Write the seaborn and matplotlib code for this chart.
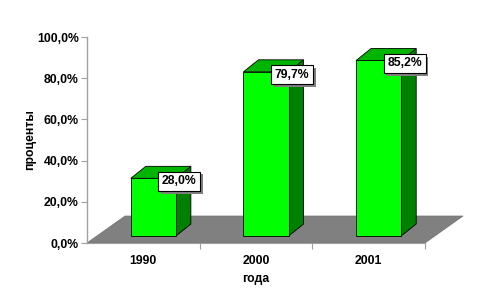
import matplotlib
matplotlib.use("Agg")
import matplotlib.pyplot as plt
import matplotlib.patheffects as pe
from matplotlib.patches import Polygon
from matplotlib.transforms import ScaledTranslation, IdentityTransform
import seaborn as sns
import pandas as pd

years = ["1990", "2000", "2001"]
values = [28.0, 79.7, 85.2]
value_labels = ["28,0%", "79,7%", "85,2%"]
y_ticks = [0, 20, 40, 60, 80, 100]
y_tick_labels = ["0,0%", "20,0%", "40,0%", "60,0%", "80,0%", "100,0%"]
x_title = "года"
y_title = "проценты"

sns.set_theme(style="white")
plt.rcParams['font.family'] = ['Liberation Sans', 'DejaVu Sans']
plt.rcParams['text.color'] = 'black'
plt.rcParams['axes.labelcolor'] = 'black'
plt.rcParams['xtick.labelcolor'] = 'black'
plt.rcParams['ytick.labelcolor'] = 'black'

W, H, DPI = 484, 301, 100
fig = plt.figure(figsize=(W / DPI, H / DPI), dpi=DPI)
ax = fig.add_axes([87 / W, (H - 243) / H, (425 - 87) / W, (243 - 37) / H])

df = pd.DataFrame({"year": years, "value": values})
sns.barplot(data=df, x="year", y="value", order=years, width=0.4,
            color="#00ff00", saturation=1, edgecolor="black", linewidth=0.6,
            ax=ax, zorder=5)
ax.set_xlim(-0.5, 2.5)
ax.set_ylim(0, 100)
bars = list(ax.patches)

# 3D offsets in pixels (display coords, y up)
bar_shift = (10, 7)
bar_depth = (15, 12)
floor_depth = (38, 27)

# floor
fl = ax.transData.transform([(-0.5, 0), (2.5, 0)])
floor = Polygon([fl[0], fl[1], (fl[1][0] + floor_depth[0], fl[1][1] + floor_depth[1]),
                 (fl[0][0] + floor_depth[0], fl[0][1] + floor_depth[1])],
                closed=True, transform=IdentityTransform(), facecolor="#808080",
                edgecolor="#707070", linewidth=0.5, zorder=1, clip_on=False)
ax.add_artist(floor)

shift_tr = ax.transData + ScaledTranslation(bar_shift[0] / DPI, bar_shift[1] / DPI,
                                            fig.dpi_scale_trans)
for p in bars:
    x0, w, h = p.get_x(), p.get_width(), p.get_height()
    (ax0, ay0), (ax1, ay1) = ax.transData.transform([(x0, 0), (x0 + w, h)])
    ax0 += bar_shift[0]; ax1 += bar_shift[0]
    ay0 += bar_shift[1]; ay1 += bar_shift[1]
    dx, dy = bar_depth
    side = Polygon([(ax1, ay0), (ax1 + dx, ay0 + dy), (ax1 + dx, ay1 + dy), (ax1, ay1)],
                   closed=True, transform=IdentityTransform(), facecolor="#008000",
                   edgecolor="black", linewidth=0.6, zorder=4, clip_on=False)
    top = Polygon([(ax0, ay1), (ax1, ay1), (ax1 + dx, ay1 + dy), (ax0 + dx, ay1 + dy)],
                  closed=True, transform=IdentityTransform(), facecolor="#00b400",
                  edgecolor="black", linewidth=0.6, zorder=4, clip_on=False)
    ax.add_artist(side)
    ax.add_artist(top)
    p.set_transform(shift_tr)
    p.set_clip_on(False)

for i, (v, lab) in enumerate(zip(values, value_labels)):
    t = ax.annotate(lab, xy=(i, v), xytext=(36, 4), textcoords="offset pixels",
                    ha="center", va="center", fontsize=8.8, fontweight="bold",
                    color="black", zorder=10,
                    bbox=dict(boxstyle="square,pad=0.3", fc="white", ec="black", lw=0.8))
    t.get_bbox_patch().set_path_effects([
        pe.SimplePatchShadow(offset=(2, -2), shadow_rgbFace="#808080", alpha=1.0),
        pe.Normal()])

ax.set_yticks(y_ticks)
ax.set_yticklabels(y_tick_labels, fontsize=8.8, fontweight="bold")
ax.set_xticks(range(len(years)))
ax.set_xticklabels(years, fontsize=8.8, fontweight="bold")
ax.set_xticks([0.5, 1.5, 2.5], minor=True)
ax.tick_params(axis="x", which="major", length=0, pad=9)
ax.tick_params(axis="x", which="minor", length=4, color="#a0a0a0", width=0.8,
               direction="out", bottom=True)
ax.tick_params(axis="y", length=4, color="#a0a0a0", width=0.8, direction="out",
               left=True, pad=2)
ax.set_xlabel(x_title, fontsize=8.8, fontweight="bold")
ax.set_ylabel(y_title, fontsize=8.8, fontweight="bold")
ax.yaxis.set_label_coords(-(87 - 36) / (425 - 87), 0.5)
ax.xaxis.set_label_coords(0.5, -(273 - 243) / (243 - 37))

for s in ["top", "right"]:
    ax.spines[s].set_visible(False)
ax.spines["left"].set_color("#a0a0a0")
ax.spines["left"].set_linewidth(1.0)
ax.spines["bottom"].set_color("#a0a0a0")
ax.spines["bottom"].set_linewidth(0.8)
ax.spines["bottom"].set_zorder(2)
ax.grid(False)
ax.patch.set_alpha(0)

fig.savefig("out.png", dpi=DPI)
